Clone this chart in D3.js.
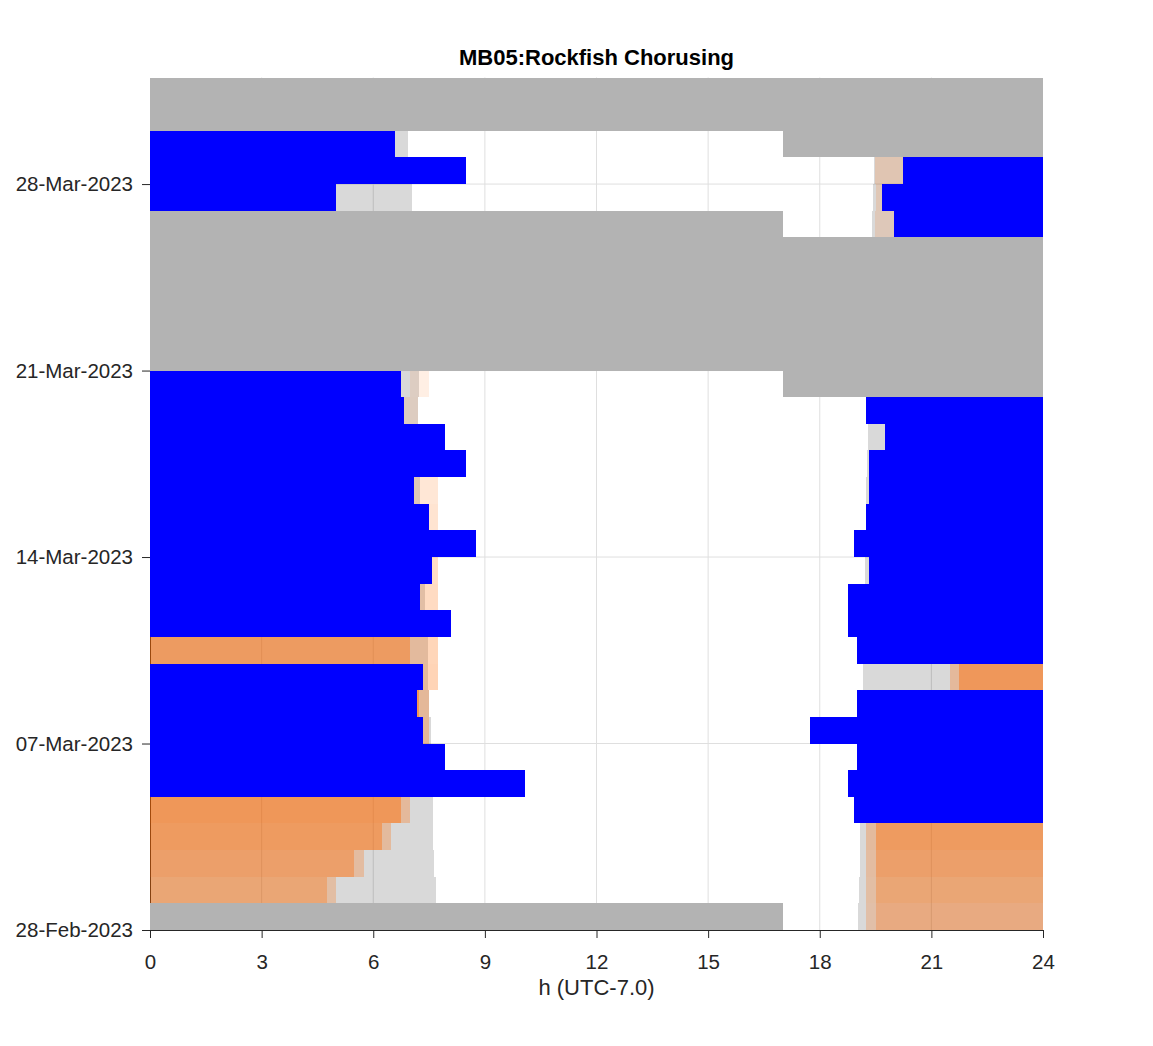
<!DOCTYPE html>
<html>
<head>
<meta charset="utf-8">
<script src="https://cdn.jsdelivr.net/npm/d3@7"></script>
<style>
    body { margin: 0; background: #fff; }
    text { font-family: "Liberation Sans", Arial, Helvetica, sans-serif; }
</style>
</head>
<body>
<div class="main"></div>
<script>

// days shown as rows (28-Feb .. 31-Mar)
const days = [
    "2023-02-28", "2023-03-01", "2023-03-02", "2023-03-03", "2023-03-04", "2023-03-05",
    "2023-03-06", "2023-03-07", "2023-03-08", "2023-03-09", "2023-03-10", "2023-03-11",
    "2023-03-12", "2023-03-13", "2023-03-14", "2023-03-15", "2023-03-16", "2023-03-17",
    "2023-03-18", "2023-03-19", "2023-03-20", "2023-03-21", "2023-03-22", "2023-03-23",
    "2023-03-24", "2023-03-25", "2023-03-26", "2023-03-27", "2023-03-28", "2023-03-29",
    "2023-03-30", "2023-03-31"
]

// night: 0 -> sunrise and sunset -> 24 (hours, UTC-7)
const sunrise = [
    7.70, 7.69, 7.63, 7.60, 7.60, 7.58, 7.57, 7.54, 7.50, 7.48, 7.48, 7.45,
    7.39, 7.37, 7.35, 7.32, 7.26, 7.28, 7.26, 7.21, 7.23, 7.20, 7.18, 7.15,
    7.13, 7.11, 7.08, 7.05, 7.02, 6.94, 6.97, 6.95
]
const sunset = [
    19.04, 19.06, 19.08, 19.09, 19.10, 19.11, 19.12, 19.13, 19.15, 19.16, 19.17, 19.18,
    19.19, 19.22, 19.23, 19.24, 19.25, 19.27, 19.30, 19.31, 19.32, 19.33, 19.35, 19.36,
    19.37, 19.39, 19.41, 19.44, 19.46, 19.47, 19.48, 19.50
]

// fraction of the moon illuminated
const moonIllum = [
    0.62, 0.71, 0.80, 0.88, 0.94, 0.98, 1.00, 1.00, 0.97, 0.93, 0.87, 0.79,
    0.70, 0.60, 0.50, 0.40, 0.30, 0.21, 0.13, 0.06, 0.02, 0.00, 0.01, 0.04,
    0.09, 0.15, 0.22, 0.31, 0.41, 0.51, 0.61, 0.70
]

// moon above horizon [day, from h, to h]
const moonUp = [
    ["2023-02-28", 19.24, 24],
    ["2023-03-01", 0, 5.00], ["2023-03-01", 19.24, 24],
    ["2023-03-02", 0, 5.74], ["2023-03-02", 19.24, 24],
    ["2023-03-03", 0, 6.49], ["2023-03-03", 19.24, 24],
    ["2023-03-04", 0, 7.00], ["2023-03-04", 19.40, 24],
    ["2023-03-05", 0, 7.75], ["2023-03-05", 19.60, 24],
    ["2023-03-06", 0, 7.75], ["2023-03-06", 19.90, 24],
    ["2023-03-07", 0, 7.50], ["2023-03-07", 20.50, 24],
    ["2023-03-08", 0, 7.50], ["2023-03-08", 21.00, 24],
    ["2023-03-09", 0, 7.74], ["2023-03-09", 21.50, 24],
    ["2023-03-10", 0, 7.74], ["2023-03-10", 22.50, 24],
    ["2023-03-11", 0, 7.75], ["2023-03-11", 23.50, 24],
    ["2023-03-12", 0, 7.75],
    ["2023-03-13", 0.50, 7.75],
    ["2023-03-14", 1.50, 7.75],
    ["2023-03-15", 2.50, 7.75],
    ["2023-03-16", 3.25, 7.75],
    ["2023-03-17", 4.00, 7.75],
    ["2023-03-18", 4.75, 7.75],
    ["2023-03-19", 5.75, 7.21],
    ["2023-03-20", 7.00, 7.49],
    ["2023-03-26", 19.48, 24],
    ["2023-03-27", 19.51, 24],
    ["2023-03-28", 19.48, 24]
]

// moon up while fully dark
const moonDark = [
    ["2023-02-28", 19.51, 24],
    ["2023-03-01", 0, 4.75], ["2023-03-01", 19.51, 24],
    ["2023-03-02", 0, 5.49], ["2023-03-02", 19.51, 24],
    ["2023-03-03", 0, 6.24], ["2023-03-03", 19.51, 24],
    ["2023-03-04", 0, 6.75], ["2023-03-04", 19.60, 24],
    ["2023-03-05", 0, 7.00], ["2023-03-05", 19.80, 24],
    ["2023-03-06", 0, 7.00], ["2023-03-06", 20.10, 24],
    ["2023-03-07", 0, 7.00], ["2023-03-07", 20.70, 24],
    ["2023-03-08", 0, 7.24], ["2023-03-08", 21.20, 24],
    ["2023-03-09", 0, 7.00], ["2023-03-09", 21.75, 24],
    ["2023-03-10", 0, 6.99], ["2023-03-10", 22.75, 24],
    ["2023-03-11", 0, 6.95], ["2023-03-11", 23.75, 24],
    ["2023-03-12", 0, 6.90],
    ["2023-03-13", 0.75, 6.85],
    ["2023-03-14", 1.75, 6.80],
    ["2023-03-15", 2.75, 6.80],
    ["2023-03-16", 3.50, 6.75],
    ["2023-03-17", 4.25, 6.75],
    ["2023-03-18", 5.00, 6.70]
]

// rockfish chorusing episodes
const chorusStart = [
    "2023-03-04 18:55", "2023-03-05 18:45", "2023-03-06 19:00", "2023-03-07 17:45",
    "2023-03-08 19:00", "2023-03-10 19:00", "2023-03-11 18:45", "2023-03-12 18:45",
    "2023-03-13 19:20", "2023-03-14 18:55", "2023-03-15 19:15", "2023-03-16 19:20",
    "2023-03-17 19:20", "2023-03-18 19:45", "2023-03-19 19:15", "2023-03-26 20:00",
    "2023-03-27 19:40", "2023-03-28 20:15"
]
const chorusEnd = [
    "2023-03-05 10:05", "2023-03-06 07:55", "2023-03-07 07:20", "2023-03-08 07:10",
    "2023-03-09 07:20", "2023-03-11 08:05", "2023-03-12 07:15", "2023-03-13 07:35",
    "2023-03-14 08:45", "2023-03-15 07:30", "2023-03-16 07:05", "2023-03-17 08:30",
    "2023-03-18 07:55", "2023-03-19 06:50", "2023-03-20 06:45", "2023-03-27 05:00",
    "2023-03-28 08:30", "2023-03-29 06:35"
]

// no recording effort
const noEffort = [
    ["2023-02-28 00:00", "2023-02-28 17:00"],
    ["2023-03-20 17:00", "2023-03-26 17:00"],
    ["2023-03-29 17:00", "2023-04-01 00:00"]
]

const hourTicks = [0, 3, 6, 9, 12, 15, 18, 21, 24]
const dateTicks = ["2023-02-28", "2023-03-07", "2023-03-14", "2023-03-21", "2023-03-28"]


const chart = () => {

    ////////////
    // CANVAS //
    ////////////

    const w = 1153
    const h = 1046
    const plot = { top: 77.5, right: 1043, bottom: 930, left: 150 }
    const axisColor = "#262626"
    const moonColor = "rgb(255,105,0)"

    const parseDay = d3.utcParse("%Y-%m-%d")
    const parseTime = d3.utcParse("%Y-%m-%d %H:%M")
    const first = parseDay(days[0])
    const last = d3.utcDay.offset(parseDay(days[days.length - 1]), 1)

    const svg = d3.select(".main")
        .append("svg")
        .attr("width", w)
        .attr("height", h)

    svg.append("rect").attr("width", w).attr("height", h).attr("fill", "#fff")

    ////////////
    // SCALES //
    ////////////

    const xScale = d3.scaleLinear()
        .domain([0, 24])
        .range([plot.left, plot.right])

    const yScale = d3.scaleUtc()
        .domain([first, last])
        .range([plot.bottom, plot.top])

    //////////
    // GRID //
    //////////

    const grid = svg.append("g").attr("stroke", "#dfdfdf").attr("stroke-width", 1)

    grid.selectAll(".vgrid")
        .data(hourTicks.slice(1, -1))
        .join("line")
        .attr("x1", d => xScale(d)).attr("x2", d => xScale(d))
        .attr("y1", plot.top).attr("y2", plot.bottom)

    grid.selectAll(".hgrid")
        .data(dateTicks.slice(1).map(parseDay))
        .join("line")
        .attr("x1", plot.left).attr("x2", plot.right)
        .attr("y1", d => yScale(d)).attr("y2", d => yScale(d))

    ///////////
    // AXLES //
    ///////////

    const xAxis = d3.axisBottom(xScale)
        .tickValues(hourTicks)
        .tickSize(8)
        .tickSizeOuter(0)
        .tickPadding(16)

    const yAxis = d3.axisLeft(yScale)
        .tickValues(dateTicks.map(parseDay))
        .tickFormat(d3.utcFormat("%d-%b-%Y"))
        .tickSize(8)
        .tickSizeOuter(0)
        .tickPadding(9)

    const xAxisDefined = svg.append("g")
        .attr("transform", `translate(0, ${plot.bottom})`)
        .call(xAxis)

    const yAxisDefined = svg.append("g")
        .attr("transform", `translate(${plot.left}, 0)`)
        .call(yAxis)

    for (const g of [xAxisDefined, yAxisDefined]) {
        g.selectAll("path, line").attr("stroke", axisColor)
        g.selectAll("text").attr("fill", axisColor).style("font-size", "20.5px")
    }
    xAxisDefined.selectAll("text").attr("dy", "0.71em")

    /////////////
    // PATCHES //
    /////////////

    const dayIndex = d => days.indexOf(d3.utcFormat("%Y-%m-%d")(d))

    const splitByDay = (t0, t1) => d3.utcDays(d3.utcDay.floor(t0), t1).map(day => {
        const next = d3.utcDay.offset(day, 1)
        const s = Math.max(t0, day), e = Math.min(t1, next)
        return { day, h0: (s - day) / 36e5, h1: (e - day) / 36e5 }
    }).filter(d => d.h1 > d.h0)

    const fromRows = rows => rows.map(([d, h0, h1]) => ({ day: parseDay(d), h0, h1 }))

    const nightSegs = days.flatMap((d, i) => [
        { day: parseDay(d), h0: 0, h1: sunrise[i] },
        { day: parseDay(d), h0: sunset[i], h1: 24 }
    ])
    const chorusSegs = chorusStart.flatMap((s, i) => splitByDay(parseTime(s), parseTime(chorusEnd[i])))
    const effortSegs = noEffort.flatMap(([s, e]) => splitByDay(parseTime(s), parseTime(e)))

    const layer = (segs, fill, opacity) => svg.append("g")
        .selectAll("rect")
        .data(segs)
        .join("rect")
        .attr("x", d => xScale(d.h0))
        .attr("width", d => xScale(d.h1) - xScale(d.h0))
        .attr("y", d => yScale(d3.utcDay.offset(d.day, 1)))
        .attr("height", d => yScale(d.day) - yScale(d3.utcDay.offset(d.day, 1)))
        .attr("fill", fill)
        .attr("fill-opacity", opacity)
        .attr("shape-rendering", "crispEdges")

    layer(nightSegs, "#000", 0.15)
    layer(fromRows(moonUp), moonColor, d => 0.1 + 0.2 * moonIllum[dayIndex(d.day)])
    layer(fromRows(moonDark), moonColor, d => 0.47 * Math.pow(moonIllum[dayIndex(d.day)], 1.5))
    layer(chorusSegs, "#0000ff", 1)
    layer(effortSegs, "#b3b3b3", 1)

    ////////////
    // LABELS //
    ////////////

    const cx = (plot.left + plot.right) / 2

    svg.append("text")
        .text("MB05:Rockfish Chorusing")
        .attr("x", cx).attr("y", 65)
        .attr("text-anchor", "middle")
        .style("font-size", "22px")
        .style("font-weight", "bold")
        .attr("fill", "#000")

    svg.append("text")
        .text("h (UTC-7.0)")
        .attr("x", cx).attr("y", 995)
        .attr("text-anchor", "middle")
        .style("font-size", "22px")
        .attr("fill", axisColor)
}

chart()

</script>
</body>
</html>
